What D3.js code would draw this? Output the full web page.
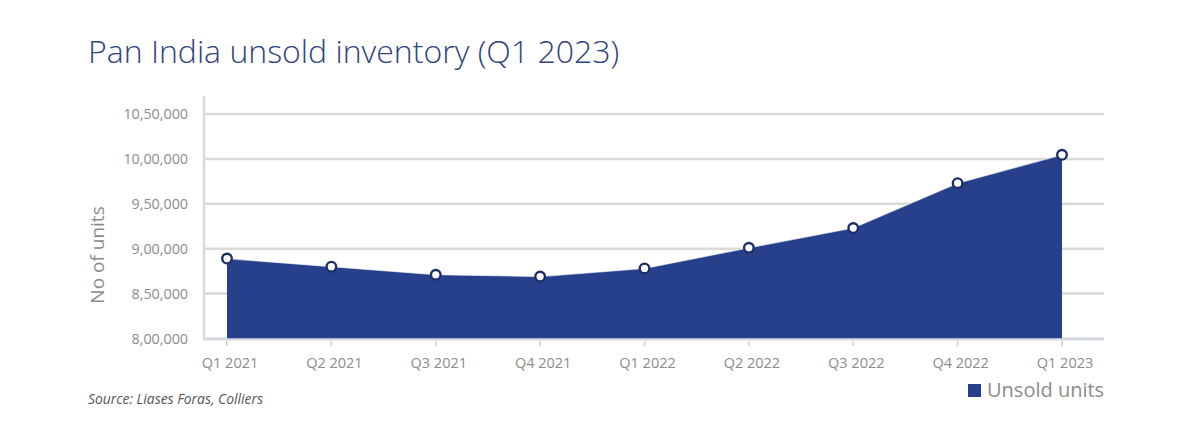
<!DOCTYPE html>
<html><head><meta charset="utf-8">
<script src="https://cdn.jsdelivr.net/npm/d3@7"></script>
<style>body{margin:0;background:#fff}svg{display:block}</style>
</head><body><svg id="c" width="1189" height="430"></svg>
<script>
const categories = ["Q1 2021","Q2 2021","Q3 2021","Q4 2021","Q1 2022","Q2 2022","Q3 2022","Q4 2022","Q1 2023"];
const unsoldUnits = [889000, 880000, 871000, 869000, 878000, 901000, 923000, 973000, 1004500];
const yTicks = [800000, 850000, 900000, 950000, 1000000, 1050000];
const yTickLabels = ["8,00,000","8,50,000","9,00,000","9,50,000","10,00,000","10,50,000"];
const seriesName = "Unsold units";
const title = "Pan India unsold inventory (Q1 2023)";
const yTitle = "No of units";
const source = "Source: Liases Foras, Colliers";

const svg = d3.select("#c");
const font = "'Open Sans', sans-serif";
const navy = "#26408b";
const plotL = 204, plotR = 1104;
const x = d3.scalePoint().domain(categories).range([227, 1062]);
const y = d3.scaleLinear().domain([800000, 1050000]).range([338.5, 114]);

svg.append("text").attr("x", 88).attr("y", 63).attr("font-family", font).attr("font-weight", 300)
  .attr("font-size", 32).attr("fill", "#2e437f").text(title);

// gridlines
const g = svg.append("g");
g.selectAll("line.grid").data(yTicks).join("line")
  .attr("x1", plotL).attr("x2", plotR).attr("y1", d => y(d)).attr("y2", d => y(d))
  .attr("stroke", "#d9d9d9").attr("stroke-width", 2.5);
// y axis line
g.append("line").attr("x1", plotL).attr("x2", plotL).attr("y1", 96).attr("y2", 340)
  .attr("stroke", "#d9d9d9").attr("stroke-width", 2.5);

// y tick labels
g.selectAll("text.yt").data(yTicks).join("text")
  .attr("x", 188).attr("y", d => y(d) + 5).attr("text-anchor", "end")
  .attr("font-family", font).attr("font-size", 14.3).attr("fill", "#8c8c8c")
  .text((d, i) => yTickLabels[i]);

// area
const area = d3.area().x((d, i) => x(categories[i])).y0(y(800000)).y1(d => y(d));
svg.append("path").datum(unsoldUnits).attr("d", area).attr("fill", navy);
const line = d3.line().x((d, i) => x(categories[i])).y(d => y(d));
svg.append("path").datum(unsoldUnits).attr("d", line).attr("fill", "none")
  .attr("stroke", "#ffffff").attr("stroke-width", 1.2).attr("opacity", 0.6);

// x axis baseline
svg.append("line").attr("x1", plotL).attr("x2", plotR).attr("y1", 339.5).attr("y2", 339.5)
  .attr("stroke", "#d3d8e4").attr("stroke-width", 2);
// ticks
svg.selectAll("line.xt").data(categories).join("line")
  .attr("x1", d => x(d)).attr("x2", d => x(d)).attr("y1", 341).attr("y2", 346)
  .attr("stroke", "#d9d9d9").attr("stroke-width", 2);
svg.selectAll("text.xl").data(categories).join("text")
  .attr("x", d => x(d) + 3).attr("y", 368).attr("text-anchor", "middle")
  .attr("font-family", font).attr("font-size", 14.5).attr("fill", "#8c8c8c").text(d => d);

// points
svg.selectAll("circle.pt").data(unsoldUnits).join("circle")
  .attr("cx", (d, i) => x(categories[i])).attr("cy", d => y(d)).attr("r", 4.8)
  .attr("fill", "#fff").attr("stroke", "#1e2f66").attr("stroke-width", 2.4);

// y title
svg.append("text").attr("transform", "translate(104,255) rotate(-90)").attr("text-anchor", "middle")
  .attr("font-family", font).attr("font-size", 19).attr("fill", "#8c8c8c").text(yTitle);

// source
svg.append("text").attr("x", 88).attr("y", 404).attr("font-family", font).attr("font-style", "italic")
  .attr("font-size", 13.9).attr("fill", "#555").text(source);

// legend
svg.append("rect").attr("x", 968).attr("y", 384).attr("width", 13).attr("height", 13).attr("fill", navy);
svg.append("text").attr("x", 987).attr("y", 397).attr("font-family", font).attr("font-size", 20)
  .attr("fill", "#8c8c8c").text(seriesName);
</script></body></html>
